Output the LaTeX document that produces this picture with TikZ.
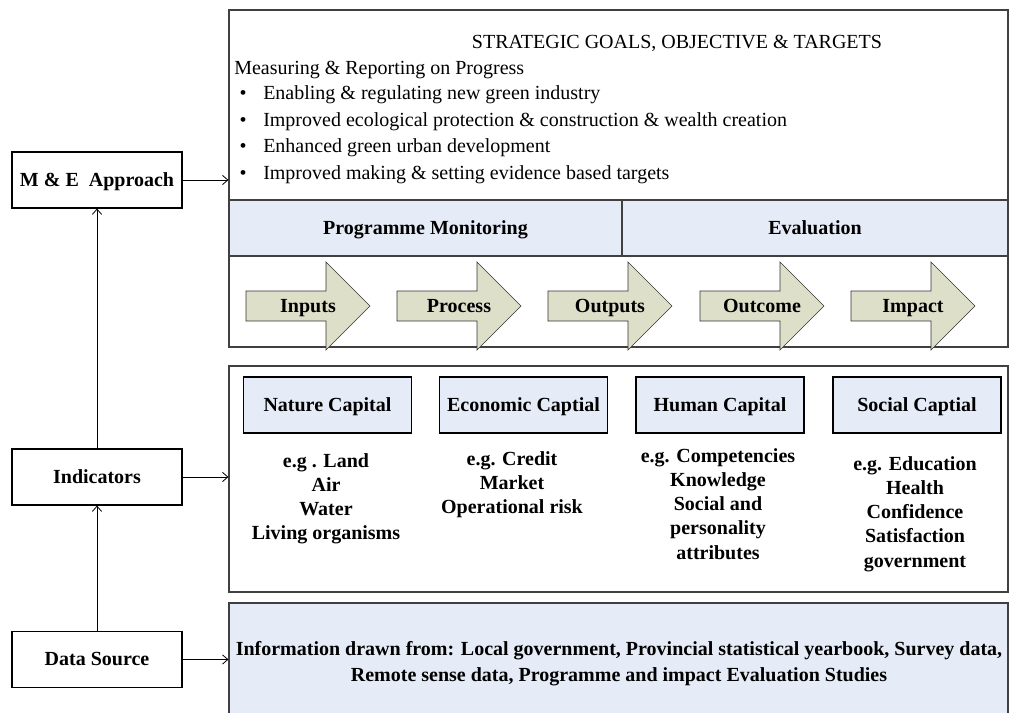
\documentclass[tikz,border=0pt]{standalone}
\usepackage{fontspec}
\setmainfont{Liberation Serif}
\usetikzlibrary{arrows.meta}
\definecolor{bandblue}{RGB}{230,236,247}
\definecolor{flowkhaki}{RGB}{221,223,201}

\begin{document}
\begin{tikzpicture}[x=0.75pt,y=-0.75pt,
  lbl/.style={font=\fontsize{15}{18.2}\selectfont\bfseries},
  line/.style={text height=11pt,text depth=1.5pt},
  txt/.style={font=\fontsize{15}{18}\selectfont,inner sep=0pt,line},
  sidebox/.style={draw,line width=0.8pt,minimum width=127.5pt,minimum height=42pt,lbl,line},
  capbox/.style={draw,line width=0.8pt,fill=bandblue,minimum width=126pt,minimum height=42pt,lbl,line},
  frame/.style={draw=black!75,line width=0.9pt,inner sep=0pt,minimum width=584.25pt},
  flow/.style={draw=black!80,line width=0.5pt,fill=flowkhaki},
  conn/.style={line width=0.6pt,-{Straight Barb[length=4pt,width=7pt]}}]
\useasboundingbox (0,0) rectangle (1010,713);
\clip (0,0) rectangle (1010,713);

% left column
\node[sidebox] (me) at (97,180) {M \& E~ Approach};
\node[sidebox] (ind) at (97,477) {Indicators};
\node[sidebox] (src) at (97,659.5) {Data Source};

% the three frames
\node[frame,minimum height=252.75pt] (goals) at (618.5,178.5) {};
\node[frame,minimum height=169.5pt] (capfr) at (618.5,479) {};
\node[frame,fill=bandblue,minimum height=102.75pt] (datafr) at (618.5,671.5) {};

% goals and targets
\node[txt] (title) at (677,42) {STRATEGIC GOALS, OBJECTIVE \& TARGETS};
\node[txt,anchor=west] (meas) at (234,68) {Measuring \& Reporting on Progress};
\foreach \t [count=\i] in {{Enabling \& regulating new green industry},
  {Improved ecological protection \& construction \& wealth creation},
  {Enhanced green urban development},
  {Improved making \& setting evidence based targets}}{
  \node[txt] (dot\i) at (243,66.4+26.7*\i) {\textbullet};
  \node[txt,anchor=west] (goal\i) at (263,66.4+26.7*\i) {\t};
}

% monitoring / evaluation band
\draw[draw=black!75,line width=0.9pt,fill=bandblue] (229,200) rectangle (1008,256);
\draw[draw=black!75,line width=0.9pt] (622,200) -- (622,256);
\node[lbl,line] (mon) at (425.5,228) {Programme Monitoring};
\node[lbl,line] (eval) at (815,228) {Evaluation};

% result chain
\foreach \x/\name [count=\i] in {246/Inputs,397/Process,548/Outputs,700/Outcome,851/Impact}{
  \draw[flow] (\x,291) -- ++(80,0) -- ++(0,-29) -- ++(44,44) -- ++(-44,44) -- ++(0,-29) -- ++(-80,0) -- cycle;
  \node[lbl,line] (step\i) at (\x+62,306) {\name};
}

% capitals
\node[capbox] (nat) at (327.5,405) {Nature Capital};
\node[capbox] (eco) at (523.5,405) {Economic Captial};
\node[capbox] (hum) at (720,405) {Human Capital};
\node[capbox] (soc) at (917,405) {Social Captial};
\node[lbl,align=center,anchor=north,inner sep=0pt] (natx) at (326,453) {e.g . Land\\Air\\Water\\Living organisms};
\node[lbl,align=center,anchor=north,inner sep=0pt] (ecox) at (512,451) {e.g. Credit\\Market\\Operational risk};
\node[lbl,align=center,anchor=north,inner sep=0pt] (humx) at (718,448) {e.g. Competencies\\Knowledge\\Social and\\personality\\attributes};
\node[lbl,align=center,anchor=north,inner sep=0pt] (socx) at (915,456) {e.g. Education\\Health\\Confidence\\Satisfaction\\government};

% data sources
\node[lbl,align=center,font=\fontsize{15}{19.5}\selectfont\bfseries] (info) at (619,664)
  {Information drawn from: Local government, Provincial statistical yearbook, Survey data,\\
   Remote sense data, Programme and impact Evaluation Studies};

% connectors
\draw[conn] (src.north) -- (ind.south);
\draw[conn] (ind.north) -- (me.south);
\draw[conn] (me.east) -- (me.east -| goals.west);
\draw[conn] (ind.east) -- (ind.east -| capfr.west);
\draw[conn] (src.east) -- (src.east -| datafr.west);
\end{tikzpicture}
\end{document}
